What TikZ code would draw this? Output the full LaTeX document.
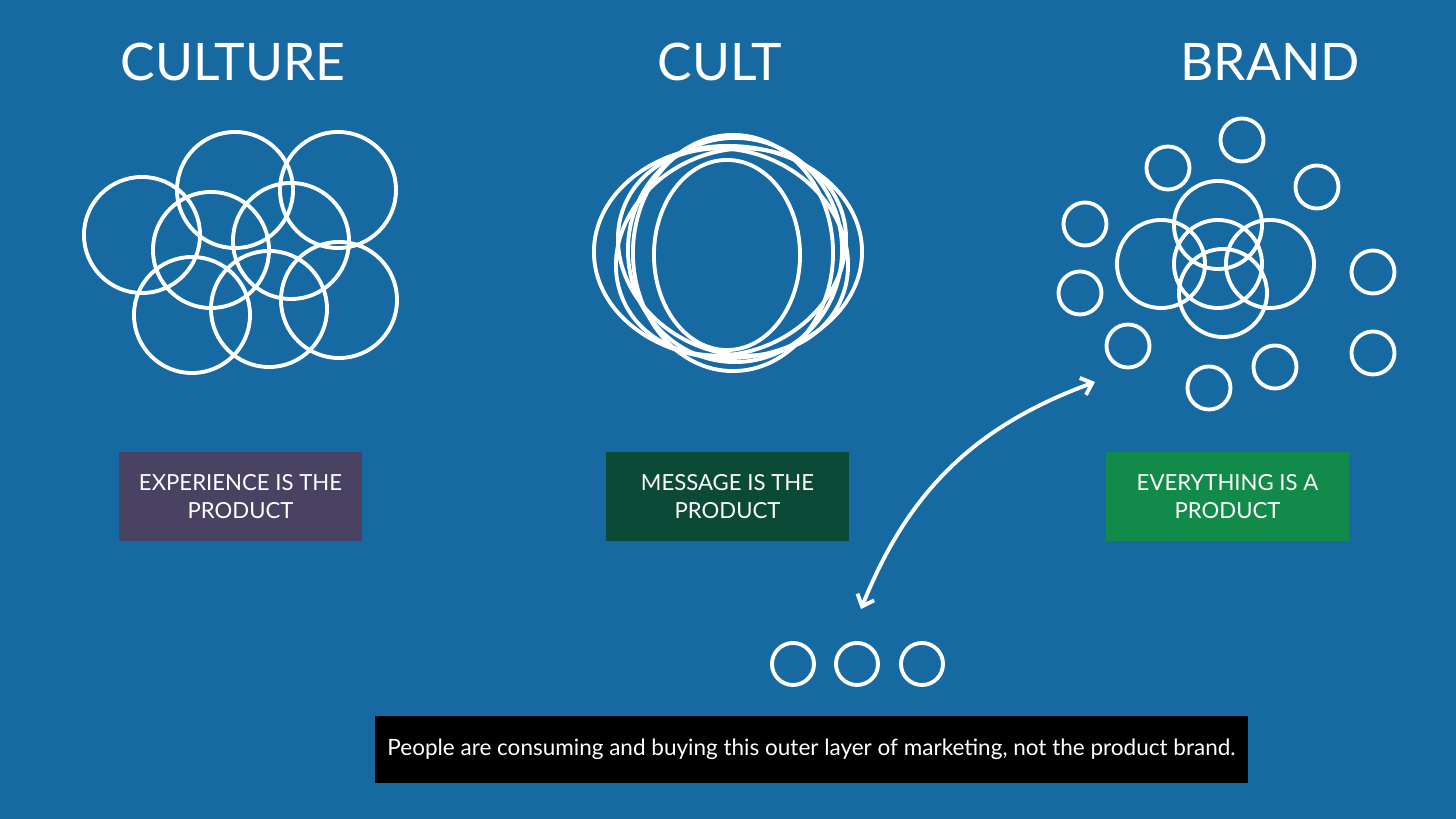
\documentclass[tikz,border=0pt]{standalone}
\usepackage{fontspec}
\setmainfont{Lato}
\usetikzlibrary{arrows.meta,shapes.geometric}
\definecolor{slide}{HTML}{1769A2}
\definecolor{plum}{HTML}{4A4262}
\definecolor{pine}{HTML}{0A4A36}
\definecolor{leaf}{HTML}{128B4A}
\tikzstyle{none}=[inner sep=0pt]
\tikzstyle{title}=[inner sep=0pt,text=white,font=\fontsize{14.7}{18}\selectfont]
\tikzstyle{tag}=[inner sep=0pt,text=white,align=center,minimum width=2.43cm,minimum height=0.89cm,font=\fontsize{6.3}{8}\selectfont]
\tikzstyle{bigring}=[circle,draw=white,line width=1.1pt,inner sep=0pt,minimum size=1.16cm]
\tikzstyle{midring}=[circle,draw=white,line width=1.1pt,inner sep=0pt,minimum size=0.88cm]
\tikzstyle{dotring}=[circle,draw=white,line width=1.1pt,inner sep=0pt,minimum size=0.43cm]
\tikzstyle{loop}=[ellipse,draw=white,line width=1.1pt,inner sep=0pt]
\tikzstyle{arc}=[draw=white,line width=1.1pt,{Straight Barb[length=1mm,width=1.8mm]}-{Straight Barb[length=1mm,width=1.8mm]}]

\begin{document}
\begin{tikzpicture}[x=0.01cm,y=-0.01cm]
  \fill [slide] (0,0) rectangle (1456,819);
  % headings
  \node [style=title] (0) at (233,62) {CULTURE};
  \node [style=title] (1) at (720,62) {CULT};
  \node [style=title] (2) at (1270,62) {BRAND};
  % culture
  \node [style=bigring] (3) at (142,235) {};
  \node [style=bigring] (4) at (235,190) {};
  \node [style=bigring] (5) at (338,190) {};
  \node [style=bigring] (6) at (211,250) {};
  \node [style=bigring] (7) at (291,241) {};
  \node [style=bigring] (8) at (192,315) {};
  \node [style=bigring] (9) at (269,309) {};
  \node [style=bigring] (10) at (339,300) {};
  % cult
  \node [style=loop, minimum width=2.68cm, minimum height=2.12cm] (11) at (728,252) {};
  \node [style=loop, minimum width=2.36cm, minimum height=2.0cm, rotate=25] (12) at (731,252) {};
  \node [style=loop, minimum width=2.36cm, minimum height=2.0cm, rotate=-25] (13) at (733,252) {};
  \node [style=loop, minimum width=2.0cm, minimum height=2.36cm] (14) at (733,253) {};
  \node [style=loop, minimum width=2.14cm, minimum height=2.24cm] (15) at (735,250) {};
  \node [style=loop, minimum width=1.46cm, minimum height=1.9cm] (16) at (727,255) {};
  % brand
  \node [style=midring] (17) at (1218,225) {};
  \node [style=midring] (18) at (1161,264) {};
  \node [style=midring] (19) at (1270,264) {};
  \node [style=midring] (20) at (1218,264) {};
  \node [style=midring] (21) at (1223,293) {};
  \node [style=dotring] (22) at (1242,140) {};
  \node [style=dotring] (23) at (1168,168) {};
  \node [style=dotring] (24) at (1317,187) {};
  \node [style=dotring] (25) at (1085,224) {};
  \node [style=dotring] (26) at (1080,293) {};
  \node [style=dotring] (27) at (1128,346) {};
  \node [style=dotring] (28) at (1209,388) {};
  \node [style=dotring] (29) at (1275,367) {};
  \node [style=dotring] (30) at (1373,272) {};
  \node [style=dotring] (31) at (1373,353) {};
  % labels
  \node [style=tag, fill=plum] (32) at (240.5,496.5) {EXPERIENCE IS THE\\PRODUCT};
  \node [style=tag, fill=pine] (33) at (727.5,496.5) {MESSAGE IS THE\\PRODUCT};
  \node [style=tag, fill=leaf] (34) at (1227.5,496.5) {EVERYTHING IS A\\PRODUCT};
  % outer layer
  \node [style=dotring, minimum size=0.42cm] (35) at (793,664) {};
  \node [style=dotring, minimum size=0.42cm] (36) at (857,664) {};
  \node [style=dotring, minimum size=0.42cm] (37) at (922,664) {};
  \node [style=none] (38) at (861,609) {};
  \node [style=none] (39) at (1095,382) {};
  \draw [style=arc] (38.center) to [bend left=24] (39.center);
  \node [style=none, fill=black, text=white, minimum width=8.73cm, minimum height=0.67cm, font=\fontsize{6.4}{8}\selectfont] (40) at (811.5,749.5) {People are consuming and buying this outer layer of marketing, not the product brand.};
\end{tikzpicture}
\end{document}
